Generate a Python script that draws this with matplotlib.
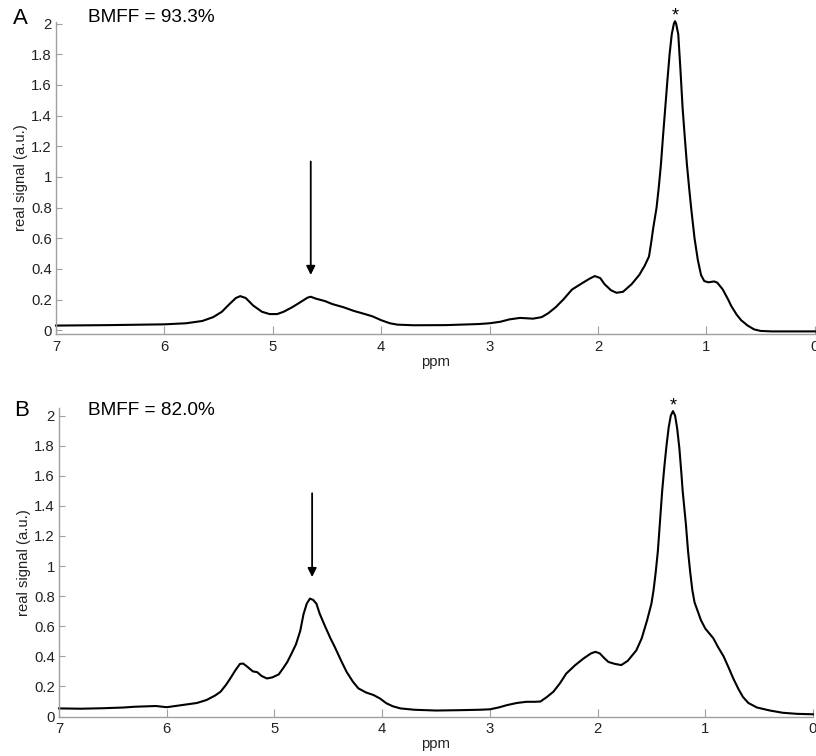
import matplotlib
matplotlib.use("Agg")
import matplotlib.pyplot as plt
from matplotlib.ticker import FuncFormatter
import numpy as np

plt.rcParams['font.family'] = ['Liberation Sans', 'DejaVu Sans']

# spectrum A (BMFF = 93.3%): ppm, real signal
ppm_a = [7.0, 6.5, 6.0, 5.8, 5.65, 5.55, 5.47, 5.40, 5.34, 5.30, 5.25, 5.18, 5.10, 5.03,
         4.96, 4.90, 4.82, 4.74, 4.68, 4.65, 4.60, 4.52, 4.45, 4.35, 4.25, 4.15, 4.08,
         4.00, 3.92, 3.85, 3.70, 3.40, 3.10, 3.00, 2.90, 2.82, 2.72, 2.60, 2.52, 2.46,
         2.39, 2.32, 2.24, 2.15, 2.08, 2.03, 1.98, 1.94, 1.88, 1.83, 1.77, 1.69, 1.62,
         1.57, 1.53, 1.51, 1.49, 1.46, 1.44, 1.42, 1.40, 1.38, 1.36, 1.34, 1.32, 1.30,
         1.29, 1.28, 1.26, 1.24, 1.22, 1.20, 1.18, 1.16, 1.14, 1.11, 1.08, 1.05, 1.02,
         0.98, 0.93, 0.90, 0.85, 0.80, 0.77, 0.72, 0.68, 0.62, 0.56, 0.50, 0.40, 0.20,
         0.00]
sig_a = [0.030, 0.033, 0.038, 0.045, 0.060, 0.085, 0.12, 0.17, 0.21, 0.222, 0.21, 0.16,
         0.12, 0.105, 0.105, 0.12, 0.15, 0.185, 0.212, 0.218, 0.205, 0.19, 0.17, 0.150,
         0.125, 0.105, 0.09, 0.065, 0.045, 0.036, 0.032, 0.033, 0.040, 0.045, 0.055,
         0.07, 0.080, 0.075, 0.085, 0.11, 0.15, 0.20, 0.265, 0.305, 0.335, 0.353, 0.34,
         0.30, 0.26, 0.244, 0.25, 0.30, 0.36, 0.42, 0.48, 0.57, 0.67, 0.80, 0.93, 1.08,
         1.27, 1.45, 1.63, 1.80, 1.93, 2.00, 2.015, 2.00, 1.93, 1.70, 1.45, 1.26, 1.08,
         0.93, 0.79, 0.60, 0.46, 0.36, 0.32, 0.312, 0.318, 0.31, 0.266, 0.20, 0.156,
         0.10, 0.065, 0.030, 0.005, -0.005, -0.008, -0.008, -0.008]

# spectrum B (BMFF = 82.0%)
ppm_b = [7.0, 6.8, 6.6, 6.4, 6.3, 6.1, 6.0, 5.9, 5.8, 5.72, 5.63, 5.55, 5.50, 5.45, 5.41,
         5.36, 5.32, 5.29, 5.25, 5.20, 5.16, 5.12, 5.07, 5.02, 4.96, 4.92, 4.88, 4.84,
         4.80, 4.76, 4.73, 4.70, 4.67, 4.64, 4.61, 4.58, 4.53, 4.48, 4.44, 4.38, 4.33,
         4.27, 4.22, 4.15, 4.08, 4.02, 3.96, 3.90, 3.83, 3.70, 3.50, 3.30, 3.10, 3.00,
         2.92, 2.84, 2.75, 2.66, 2.58, 2.53, 2.47, 2.41, 2.35, 2.29, 2.21, 2.13, 2.06,
         2.02, 1.98, 1.94, 1.90, 1.84, 1.78, 1.72, 1.64, 1.59, 1.54, 1.50, 1.48, 1.46,
         1.44, 1.42, 1.40, 1.38, 1.36, 1.34, 1.32, 1.30, 1.28, 1.26, 1.24, 1.22, 1.21,
         1.18, 1.16, 1.14, 1.12, 1.10, 1.07, 1.04, 1.00, 0.925, 0.88, 0.83, 0.78, 0.74,
         0.69, 0.65, 0.60, 0.52, 0.40, 0.28, 0.15, 0.00]
sig_b = [0.054, 0.052, 0.055, 0.060, 0.065, 0.070, 0.062, 0.072, 0.082, 0.090, 0.11,
         0.14, 0.165, 0.21, 0.253, 0.31, 0.35, 0.352, 0.33, 0.30, 0.295, 0.27, 0.253,
         0.26, 0.28, 0.32, 0.363, 0.42, 0.48, 0.57, 0.68, 0.75, 0.784, 0.775, 0.75,
         0.684, 0.60, 0.52, 0.463, 0.37, 0.297, 0.23, 0.187, 0.16, 0.143, 0.12, 0.088,
         0.068, 0.054, 0.045, 0.040, 0.042, 0.045, 0.048, 0.060, 0.076, 0.09, 0.098,
         0.098, 0.10, 0.13, 0.165, 0.22, 0.286, 0.34, 0.386, 0.42, 0.43, 0.42, 0.39,
         0.363, 0.35, 0.342, 0.37, 0.44, 0.52, 0.64, 0.75, 0.84, 0.96, 1.10, 1.30, 1.50,
         1.66, 1.80, 1.92, 2.00, 2.03, 2.00, 1.91, 1.78, 1.60, 1.50, 1.28, 1.10, 0.96,
         0.84, 0.76, 0.70, 0.64, 0.585, 0.52, 0.46, 0.40, 0.32, 0.253, 0.18, 0.13, 0.09,
         0.06, 0.04, 0.025, 0.018, 0.015]

panels = ["A", "B"]
bmff = ["BMFF = 93.3%", "BMFF = 82.0%"]
water_ppm = 4.65
arrow_a = (1.10, 0.36)
arrow_b = (1.484, 0.927)
yticks = np.arange(0, 2.01, 0.2)

fig = plt.figure(figsize=(8.16, 7.56), dpi=100)
ax_a = fig.add_axes([0.0686, 0.5582, 0.930, 0.4127])
ax_b = fig.add_axes([0.0723, 0.0522, 0.924, 0.408])

spine_col = "#a0a0a0"
fmt = FuncFormatter(lambda v, p: f"{v:g}")


def style(ax, ylim):
    ax.set_xlim(7, 0)
    ax.set_ylim(*ylim)
    ax.set_yticks(yticks)
    ax.set_xticks(range(0, 8))
    ax.xaxis.set_major_formatter(fmt)
    ax.yaxis.set_major_formatter(fmt)
    for s in ["top", "right"]:
        ax.spines[s].set_visible(False)
    for s in ["left", "bottom"]:
        ax.spines[s].set_color(spine_col)
        ax.spines[s].set_linewidth(1.0)
    ax.tick_params(axis="both", direction="in", color=spine_col, labelcolor="#222222",
                   labelsize=10.7)
    ax.tick_params(axis="x", length=5.5, pad=4)
    ax.tick_params(axis="y", length=4.3, pad=3)
    ax.set_xlabel("ppm", fontsize=10.7, color="#222222", labelpad=1)
    ax.set_ylabel("real signal (a.u.)", fontsize=10.7, color="#222222", labelpad=2)


for ax, x, y, ylim, arr in [(ax_a, ppm_a, sig_a, (-0.025, 2.01), arrow_a),
                            (ax_b, ppm_b, sig_b, (0, 2.05), arrow_b)]:
    ax.plot(x, y, color="black", lw=1.5, clip_on=False)
    style(ax, ylim)
    ax.annotate("", xy=(water_ppm, arr[1]), xytext=(water_ppm, arr[0]),
                arrowprops=dict(arrowstyle="-|>", color="black", lw=1.3,
                                mutation_scale=13, shrinkA=0, shrinkB=0))
    peak = int(np.argmax(y))
    ax.annotate("*", xy=(x[peak], y[peak]), xytext=(0, -2.5), textcoords="offset points",
                ha="center", va="bottom", fontsize=13, annotation_clip=False)

fig.text(13 / 816, 1 - 18 / 756, panels[0], fontsize=16, va="center", ha="left")
fig.text(88 / 816, 1 - 17.5 / 756, bmff[0], fontsize=13.7, va="center", ha="left")
fig.text(14 / 816, 1 - 411 / 756, panels[1], fontsize=16, va="center", ha="left")
fig.text(88 / 816, 1 - 410.5 / 756, bmff[1], fontsize=13.7, va="center", ha="left")

fig.savefig("out.png", dpi=100)
